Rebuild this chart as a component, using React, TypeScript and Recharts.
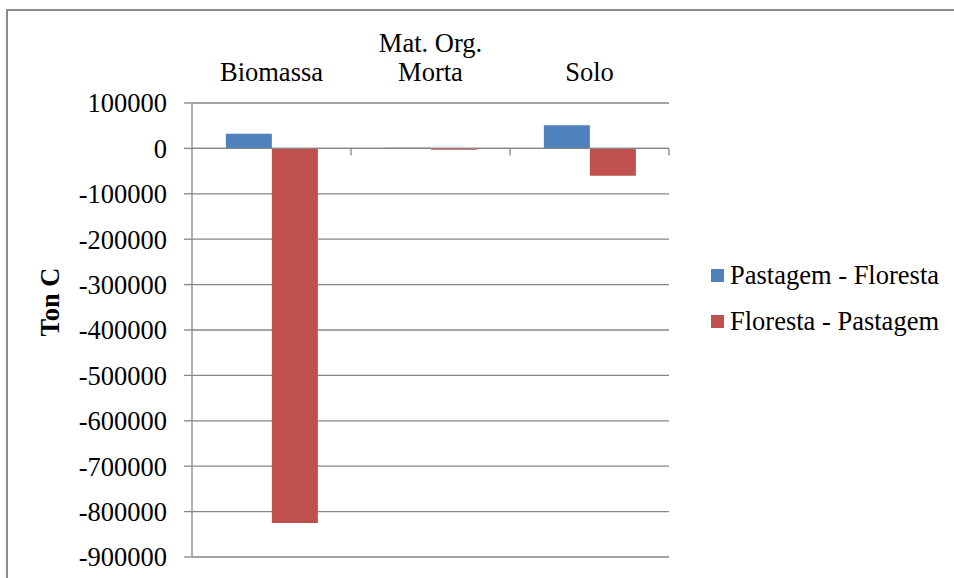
import React from 'react';
import { BarChart, Bar, XAxis, YAxis, CartesianGrid, ReferenceLine } from 'recharts';

const categories = ['Biomassa', 'Mat. Org.\nMorta', 'Solo'];
const pastagemFloresta = [32000, 1500, 51000];
const florestaPastagem = [-825000, -3000, -60000];
const yTicks = [100000, 0, -100000, -200000, -300000, -400000, -500000, -600000, -700000, -800000, -900000];
const seriesNames = ['Pastagem - Floresta', 'Floresta - Pastagem'];
const seriesColors = ['#4F81BD', '#C0504D'];
const yLabel = 'Ton C';

const data = categories.map((c, i) => ({ name: c, pf: pastagemFloresta[i], fp: florestaPastagem[i] }));

const FONT = '"Liberation Serif", "Times New Roman", serif';
const FS = 26.5;
const GRID = '#868686';

const CatTick = (props: any) => {
  const { x, y, payload } = props;
  const lines = String(payload.value).split('\n');
  return (
    <g>
      {lines.map((l, i) => (
        <text key={i} x={x} y={y - (lines.length - 1 - i) * 29} textAnchor="middle" fontFamily={FONT} fontSize={FS} fill="#000">
          {l}
        </text>
      ))}
    </g>
  );
};

const YTitle = () => (
  <text x={0} y={0} transform="translate(59 302) rotate(-90)" textAnchor="middle" fontFamily={FONT} fontSize={FS} fontWeight="bold" fill="#000">
    {yLabel}
  </text>
);

const ZeroLine = (p: any) => {
  const { x1, y1, x2 } = p;
  const n = categories.length;
  const step = (x2 - x1) / n;
  return (
    <g>
      <line x1={x1} y1={y1} x2={x2} y2={y1} stroke={GRID} strokeWidth={1.3} />
      {Array.from({ length: n }, (_, i) => (
        <line key={i} x1={x1 + step * (i + 1)} y1={y1} x2={x1 + step * (i + 1)} y2={y1 + 7} stroke={GRID} strokeWidth={1.3} />
      ))}
    </g>
  );
};

export default function App() {
  return (
    <div>
      <div
        style={{
          position: 'absolute',
          left: 6,
          top: 9,
          width: 948,
          height: 569,
          borderLeft: '2px solid #8c8c8c',
          borderTop: '2px solid #8c8c8c',
          boxSizing: 'border-box',
        }}
      />
      <div style={{ position: 'absolute', left: 0, top: 0 }}>
        <BarChart
          width={954}
          height={578}
          data={data}
          margin={{ top: 0, right: 285, bottom: 21, left: 0 }}
          barCategoryGap="21.3%"
          barGap={0}
        >
          <CartesianGrid vertical={false} stroke={GRID} strokeWidth={1.3} />
          <XAxis
            dataKey="name"
            orientation="top"
            height={103}
            axisLine={false}
            tickLine={false}
            tickSize={0}
            tickMargin={22}
            tick={<CatTick />}
            interval={0}
          />
          <YAxis
            type="number"
            domain={[-900000, 100000]}
            ticks={yTicks}
            interval={0}
            width={192}
            axisLine={{ stroke: GRID, strokeWidth: 1.3 }}
            tickLine={{ stroke: GRID, strokeWidth: 1.3 }}
            tickSize={8}
            tickMargin={17}
            tick={{ fontFamily: FONT, fontSize: FS, fill: '#000' }}
            label={<YTitle />}
          />
          <Bar dataKey="pf" name={seriesNames[0]} fill={seriesColors[0]} isAnimationActive={false} />
          <Bar dataKey="fp" name={seriesNames[1]} fill={seriesColors[1]} isAnimationActive={false} />
          <ReferenceLine y={0} shape={<ZeroLine />} />
        </BarChart>
      </div>
      <div style={{ position: 'absolute', left: 711, top: 252, fontFamily: FONT, fontSize: FS, color: '#000' }}>
        {seriesNames.map((n, i) => (
          <div key={n} style={{ height: 46, display: 'flex', alignItems: 'center', whiteSpace: 'nowrap' }}>
            <span style={{ display: 'inline-block', width: 13, height: 13, background: seriesColors[i], marginRight: 6 }} />
            <span style={{ lineHeight: '26px' }}>{n}</span>
          </div>
        ))}
      </div>
    </div>
  );
}
